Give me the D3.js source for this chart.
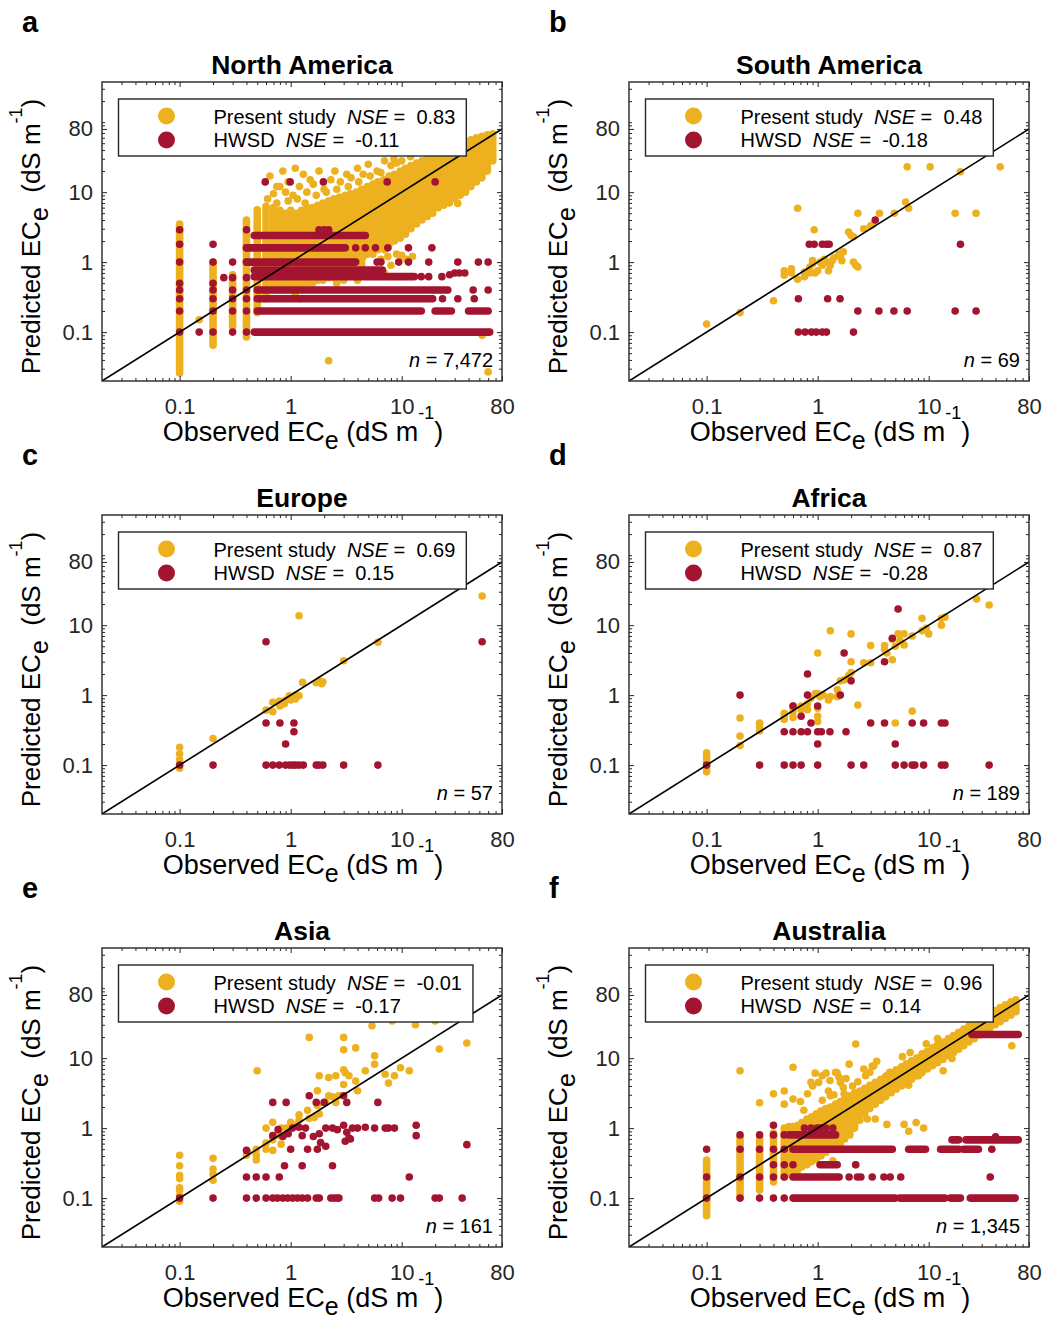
<!DOCTYPE html>
<html>
<head>
<meta charset="utf-8">
<script src="https://cdn.jsdelivr.net/npm/d3@7"></script>
<style>
  body { margin: 0; background: #fff; }
  svg { font-family: "Liberation Sans", Arial, Helvetica, sans-serif; }
</style>
</head>
<body>
<svg id="chart" width="1048" height="1333"></svg>
<script>
// panel meta
const regions = ['North America', 'South America', 'Europe', 'Africa', 'Asia', 'Australia']
const panelLetters = ['a', 'b', 'c', 'd', 'e', 'f']
const nsePresent = [0.83, 0.48, 0.69, 0.87, -0.01, 0.96]
const nseHwsd = [-0.11, -0.18, 0.15, -0.28, -0.17, 0.14]
const sampleSizes = ['7,472', '69', '57', '189', '161', '1,345']
const majorTicks = [0.1, 1, 10, 80]
const xDomain = [0.02, 80]
const yDomain = [0.02, 375]

// dense stacks of overlapping samples: present study as [observed, predLow, predHigh],
// HWSD as [predicted, obsLow, obsHigh]
const naPresentRuns = [
  [0.1, 0.026, 3.5], [0.2, 0.065, 1.0], [0.3, 0.12, 0.66], [0.4, 0.085, 4.0], [0.5, 0.19, 5.6], [0.6, 0.3, 6.3], [0.7, 0.4, 6],
  [0.8, 0.4, 5.5], [0.9, 0.4, 5], [1.0, 0.4, 5.5], [1.12, 0.45, 5], [1.25, 0.45, 5.5], [1.4, 0.5, 6], [1.57, 0.5, 6],
  [1.75, 0.55, 6.5], [1.95, 0.55, 7], [2.2, 0.6, 7.5], [2.45, 0.6, 8], [2.75, 0.65, 8.5], [3.1, 0.7, 9], [3.45, 0.7, 9.5],
  [3.9, 0.8, 10], [4.35, 0.9, 11], [4.9, 1.3, 12], [5.5, 1.5, 13], [6.1, 1.5, 14], [6.9, 1.7, 15], [7.7, 1.8, 17],
  [8.6, 2, 18], [9.7, 2.2, 20], [10.8, 2.5, 22], [12.1, 3, 24], [13.6, 3.5, 26], [15.2, 4, 28], [17, 4.5, 31], [19, 5, 34],
  [21.3, 6, 37], [23.9, 6.5, 40], [26.8, 7, 43], [30, 8, 46], [33.6, 9, 50], [37.6, 10, 53], [42, 12, 56], [47, 14, 60],
  [52.7, 16, 63], [59, 20, 66], [66, 28, 68]
]
const naPresent = [
  [2.2, 0.039], [60, 0.027], [53, 0.09], [60, 0.1], [32, 6.9], [0.15, 0.15],
  [1.1, 22], [1.3, 18], [1.5, 15], [0.75, 12], [0.95, 14], [1.8, 20], [2.5, 20], [3.2, 18], [4, 22], [5, 25], [7, 28],
  [8.5, 30], [9, 26], [12, 32], [0.62, 8], [0.7, 9.5], [0.8, 12], [0.9, 10], [1.05, 9], [1.2, 12], [1.4, 10], [1.6, 13],
  [2, 11], [2.3, 15], [2.8, 14], [3.5, 16], [4.5, 18], [6, 20], [8, 24], [10, 28], [0.65, 17], [0.85, 20],
  [0.75, 7], [0.95, 7.5], [1.15, 8], [1.35, 7], [1.7, 9], [2.1, 10], [2.6, 11], [3.3, 12], [4.1, 14], [5.2, 17], [6.5, 19],
  [4.5, 1.2], [5.5, 1.3], [6.5, 1.1], [7.5, 1.2], [9, 1.3], [10, 1.25], [11, 1.1], [12.5, 1.2], [5, 0.7], [6, 0.68],
  [7, 0.7], [3, 0.55], [4, 0.55], [8, 0.9], [2.6, 0.5], [1.2, 0.3], [1.1, 0.34], [7, 1.5], [7.5, 1.6]
]
const naHwsdRuns = [
  [0.1, 0.47, 62], [0.2, 0.5, 15], [0.2, 20, 28], [0.2, 40, 60], [0.3, 0.5, 19], [0.4, 0.5, 19], [0.4, 20, 26],
  [0.62, 0.47, 13], [0.77, 0.47, 6.7], [1, 0.4, 3.85], [1.6, 0.4, 3.1], [2.4, 0.47, 4.7]
]
const naHwsd = [
  [0.1, 0.1], [0.1, 0.2], [0.1, 0.3], [0.1, 0.4], [0.1, 0.5], [0.1, 1], [0.1, 1.8], [0.1, 2.9], [0.15, 0.1],
  [0.2, 0.1], [0.2, 0.2], [0.2, 0.3], [0.2, 0.4], [0.2, 0.5], [0.2, 1], [0.2, 1.8], [0.25, 0.6],
  [0.3, 0.1], [0.3, 0.2], [0.3, 0.3], [0.3, 0.4], [0.3, 0.6], [0.3, 1],
  [0.4, 0.1], [0.4, 0.2], [0.4, 0.3], [0.4, 0.4], [0.4, 0.6], [0.4, 1], [0.4, 1.6], [0.4, 2.9],
  [0.59, 14], [0.99, 14], [1.97, 14], [7.4, 14], [20, 14], [1.8, 2.9], [2.0, 2.9], [2.2, 2.9],
  [6, 1], [6.5, 1], [9.4, 1], [11.5, 1], [17.5, 1], [32, 1], [49, 1], [60, 1],
  [3.85, 1.6], [4.7, 1.6], [5.8, 1.6], [7.5, 1.6], [11.5, 1.6], [18.7, 1.6],
  [15, 0.62], [17.5, 0.62], [23, 0.62], [27, 0.66], [30, 0.7], [33, 0.7], [37, 0.7],
  [44, 0.4], [60, 0.4], [23.3, 0.3], [32, 0.3], [45, 0.3]
]

const saPresent = [
  [0.1, 0.13], [0.2, 0.19], [0.4, 0.28], [0.5, 0.75], [0.5, 0.65], [0.58, 0.8], [0.58, 0.7], [0.66, 5.9], [0.66, 0.57],
  [0.76, 0.62], [0.76, 0.72], [0.85, 0.85], [0.9, 0.95], [0.85, 0.7], [0.95, 0.7], [0.93, 2.9], [1.0, 0.75], [1.05, 1.0],
  [1.1, 0.9], [1.15, 1.1], [1.2, 1.0], [1.25, 0.75], [1.3, 0.9], [1.35, 1.05], [1.55, 1.3], [1.6, 1.2], [1.65, 1.05],
  [1.9, 2.7], [2.0, 2.4], [2.1, 2.3], [2.1, 1.0], [2.2, 0.9], [2.3, 0.85], [2.3, 5], [2.6, 3.0], [3.0, 3.3], [3.1, 3.4],
  [3.6, 5], [4.9, 5], [6.2, 7.2], [6.6, 5.9], [6.4, 23], [10.3, 23], [44, 23], [19.3, 19.5], [17.3, 5], [26.7, 5],
  [1.4, 1.15], [1.7, 1.4], [0.9, 1.05]
]
const saHwsd = [
  [3.3, 4], [0.84, 1.8], [0.93, 1.8], [1.1, 1.8], [1.2, 1.8], [1.27, 1.8], [19.3, 1.8], [0.67, 0.3], [1.23, 0.3],
  [1.59, 0.3], [2.3, 0.2], [3.56, 0.2], [4.86, 0.2], [6.4, 0.2], [17.3, 0.2], [26.7, 0.2], [0.67, 0.1], [0.77, 0.1],
  [0.88, 0.1], [0.97, 0.1], [1.1, 0.1], [1.2, 0.1], [2.1, 0.1]
]

const euPresent = [
  [0.1, 0.18], [0.1, 0.145], [0.1, 0.12], [0.1, 0.1], [0.1, 0.09], [0.2, 0.24], [0.6, 0.61], [0.69, 0.58], [0.69, 0.79],
  [0.79, 0.82], [0.875, 0.75], [0.9, 0.85], [0.97, 0.98], [1.04, 0.95], [1.11, 1.0], [1.19, 0.98], [1.1, 0.88],
  [1.28, 1.52], [1.7, 1.5], [1.8, 1.6], [1.9, 1.45], [1.95, 1.55], [3.0, 3.1], [6.1, 5.7], [1.19, 13.6], [53, 26],
  [0.8, 0.7], [1.0, 0.85]
]
const euHwsd = [
  [0.6, 5.8], [53, 5.8], [0.6, 0.4], [0.8, 0.4], [1.07, 0.4], [1.07, 0.3], [0.9, 0.2],
  [0.1, 0.1], [0.2, 0.1], [0.6, 0.1], [0.69, 0.1], [0.79, 0.1], [0.9, 0.1], [0.98, 0.1], [1.05, 0.1], [1.11, 0.1],
  [1.19, 0.1], [1.3, 0.1], [1.7, 0.1], [1.8, 0.1], [1.95, 0.1], [3.0, 0.1], [6.1, 0.1]
]

const afPresent = [
  [0.1, 0.15], [0.1, 0.135], [0.1, 0.12], [0.1, 0.11], [0.1, 0.1], [0.1, 0.09], [0.1, 0.08],
  [0.2, 0.47], [0.2, 0.26], [0.2, 0.19], [0.3, 0.4], [0.3, 0.35], [0.3, 0.31],
  [0.5, 0.55], [0.5, 0.5], [0.5, 0.45], [0.6, 0.58], [0.6, 0.48], [0.6, 0.7], [0.71, 0.7], [0.71, 0.62], [0.81, 0.75],
  [0.81, 0.62], [0.87, 0.9], [0.95, 1.05], [1.0, 1.05], [1.05, 0.95], [1.12, 1.0], [1.25, 0.85], [1.3, 0.95],
  [1.5, 0.95], [1.5, 1.2], [1.0, 0.65], [1.0, 0.5], [1.0, 0.42], [1.0, 4.0], [1.3, 8.3], [2.0, 7.5], [2.0, 3.0],
  [2.3, 0.72], [1.6, 1.6], [1.73, 1.65], [1.9, 1.9], [2.0, 2.1], [2.6, 2.9], [3.0, 2.9], [3.0, 5.1], [4.0, 5.1],
  [4.0, 4.5], [4.7, 6.3], [4.7, 3.2], [5.0, 5.0], [5.3, 7.5], [6.0, 7.5], [6.0, 5.2], [7.1, 7.0], [8.7, 12.5],
  [8.7, 8.3], [10, 7.5], [13, 10], [13, 12.5], [14, 13], [27, 23.6], [35, 19.4], [7.1, 0.59], [5.0, 0.4], [4.2, 4.0],
  [5.5, 6], [9.5, 9]
]
const afHwsd = [
  [0.2, 1.0], [0.6, 0.7], [0.71, 0.5], [0.81, 2.0], [0.81, 1.0], [1.0, 0.7], [1.6, 1.0], [1.73, 4.0], [2.0, 1.6],
  [4.0, 3.0], [4.7, 6.5], [5.3, 17],
  [0.87, 0.4], [3.0, 0.4], [4.0, 0.4], [7.1, 0.4], [9.0, 0.4], [13, 0.4], [14, 0.4],
  [0.5, 0.3], [0.6, 0.3], [0.71, 0.3], [0.81, 0.3], [1.0, 0.3], [1.08, 0.3], [1.29, 0.3], [1.8, 0.3], [1.0, 0.2], [5.0, 0.2],
  [0.1, 0.1], [0.3, 0.1], [0.5, 0.1], [0.6, 0.1], [0.71, 0.1], [1.0, 0.1], [2.0, 0.1], [2.6, 0.1], [5.0, 0.1], [6.0, 0.1],
  [7.1, 0.1], [7.5, 0.1], [9.0, 0.1], [13, 0.1], [14, 0.1], [35, 0.1]
]

const asPresent = [
  [0.1, 0.41], [0.1, 0.29], [0.1, 0.21], [0.1, 0.19], [0.1, 0.14], [0.1, 0.13], [0.1, 0.11], [0.1, 0.09],
  [0.2, 0.37], [0.2, 0.26], [0.2, 0.22], [0.2, 0.18],
  [0.4, 0.41], [0.41, 0.46], [0.49, 0.5], [0.49, 0.41], [0.6, 0.61], [0.6, 1.0], [0.69, 1.21], [0.69, 0.68], [0.79, 0.8],
  [0.82, 1.0], [0.91, 1.0], [1.0, 1.21], [1.1, 1.1], [1.19, 1.3], [0.82, 0.59], [0.79, 0.78], [0.6, 0.5], [0.69, 0.48],
  [0.49, 0.35], [1.47, 1.38], [1.63, 1.42], [1.81, 1.59], [1.74, 2.1], [1.74, 3.42], [1.81, 5.6], [2.2, 5.3], [2.55, 5.6],
  [2.38, 2.8], [2.55, 2.33], [2.7, 2.9], [3.0, 4.2], [3.1, 6.2], [3.35, 5.6], [3.0, 6.8], [3.85, 4.7], [4.0, 3.42],
  [4.7, 6.6], [5.7, 8.2], [5.7, 10.8], [7.1, 5.9], [7.6, 4.4], [8.6, 5.6], [9.75, 7.3], [11.7, 6.6], [21.8, 13.5],
  [38.6, 16.4], [1.47, 19.8], [3.0, 19.8], [3.0, 13.2], [3.85, 14], [0.5, 6.6], [5.4, 29], [8.2, 34], [13.3, 30], [20, 34],
  [1.19, 1.55], [1.42, 1.8], [2.07, 2.33], [2.2, 2.9]
]
const asHwsd = [
  [0.4, 0.48], [0.69, 2.33], [0.91, 2.33], [1.47, 2.9], [1.7, 2.33], [2.0, 2.33], [3.0, 2.9], [3.2, 2.33], [6.1, 2.33],
  [0.69, 0.78], [0.77, 0.95], [0.85, 0.76], [0.95, 0.83], [1.04, 1.0], [1.19, 1.03], [1.27, 0.78], [1.36, 1.0], [1.6, 0.76],
  [1.81, 0.83], [1.86, 0.62], [2.07, 1.0], [2.38, 1.0], [2.63, 0.95], [3.0, 1.1], [3.2, 0.87], [3.45, 0.7], [3.6, 1.0],
  [4.0, 1.0], [4.7, 1.03], [5.7, 1.0], [7.1, 1.0], [7.6, 1.0], [8.6, 1.0], [13.5, 1.1], [13.5, 0.78], [38.6, 0.58],
  [3.1, 0.65], [3.35, 0.72], [1.0, 0.5], [1.42, 0.5], [1.74, 0.5], [2.07, 0.55], [0.88, 0.29], [1.27, 0.29], [2.38, 0.29],
  [0.4, 0.2], [0.49, 0.2], [0.6, 0.2], [0.79, 0.2], [11.7, 0.2],
  [0.1, 0.1], [0.2, 0.1], [0.4, 0.1], [0.49, 0.1], [0.6, 0.1], [0.69, 0.1], [0.76, 0.1], [0.85, 0.1], [0.94, 0.1],
  [1.04, 0.1], [1.15, 0.1], [1.27, 0.1], [1.42, 0.1], [1.7, 0.1], [1.81, 0.1], [2.3, 0.1], [2.46, 0.1], [2.63, 0.1],
  [2.72, 0.1], [5.7, 0.1], [6.2, 0.1], [8.2, 0.1], [9.75, 0.1], [20, 0.1], [21.8, 0.1], [35, 0.1]
]

const auPresentRuns = [
  [0.1, 0.056, 0.35], [0.2, 0.1, 0.74], [0.3, 0.13, 0.7], [0.4, 0.17, 0.85], [0.5, 0.2, 1.0],
  [0.55, 0.22, 1.05], [0.6, 0.25, 1.05], [0.66, 0.25, 1.1], [0.72, 0.28, 1.2], [0.8, 0.3, 1.35], [0.88, 0.33, 1.45],
  [0.97, 0.36, 1.6], [1.07, 0.4, 1.75], [1.18, 0.45, 1.9], [1.3, 0.5, 2.0], [1.45, 0.55, 2.2], [1.6, 0.6, 2.4],
  [1.75, 0.7, 2.6], [1.95, 0.8, 2.9], [2.15, 1.0, 3.2], [2.4, 1.3, 3.4], [2.65, 1.6, 3.7], [2.95, 1.9, 4.1],
  [3.3, 2.2, 4.5], [3.7, 2.5, 5], [4.1, 2.8, 5.5], [4.6, 3.2, 6.1], [5.1, 3.6, 6.8], [5.7, 4, 7.5], [6.3, 4.5, 8.3],
  [7, 5, 9.2], [7.8, 5.6, 10], [8.7, 6.2, 11.5], [9.7, 7, 12.5], [10.8, 7.8, 14], [12, 8.6, 15.5], [13.4, 9.6, 17],
  [15, 10.8, 19], [16.7, 12, 21], [18.6, 13.4, 23.5], [20.7, 15, 26], [23, 17, 29], [25.7, 19, 32], [28.6, 21.5, 35],
  [32, 24, 39], [35.6, 27, 43], [39.7, 30, 48], [44, 33, 53], [49, 37, 58], [55, 41, 64], [61, 46, 68]
]
const auPresent = [
  [0.2, 6.6], [0.3, 2.3], [0.4, 3.1], [0.5, 3.4], [0.5, 2.2], [0.6, 7.4], [0.6, 2.6], [0.81, 3.1], [0.87, 4.5], [0.95, 6.1],
  [1.02, 4.5], [1.19, 6.1], [1.3, 2.9], [1.5, 6.1], [1.6, 4.5], [1.73, 3.1], [1.92, 8.2], [2.2, 15.9], [2.7, 5.6],
  [3.2, 7.7], [3.6, 4.1], [4.2, 5.6], [4.7, 6.1], [5.5, 5.6], [6.6, 4.1], [7.1, 8.2], [8.1, 5.6], [8.7, 6.6], [10.8, 8.2],
  [13.5, 6.6], [16.2, 9.9], [17.4, 13.5], [0.9, 4.0], [1.1, 5.6], [1.29, 4.8], [1.45, 6.25], [1.56, 5.3], [1.8, 5.1],
  [2.06, 4.0], [2.06, 2.7], [2.4, 3.0], [2.95, 6.25], [3.1, 7.7], [3.9, 4.0], [4.45, 6.25], [5.0, 4.8],
  [0.7, 2.4], [0.75, 1.8], [1.1, 2.5], [1.25, 3.4], [1.4, 3.0], [1.7, 3.8], [2.3, 4.6], [2.6, 7.0], [3.4, 9.0], [5.8, 10.5],
  [6.8, 12], [9.5, 16], [12, 19],
  [2.8, 1.35], [3.3, 1.35], [4.2, 1.13], [6.0, 1.13], [6.6, 0.9], [7.7, 1.2], [9.0, 1.0], [1.37, 0.34], [2.2, 0.3],
  [56, 15]
]
const auHwsdRuns = [
  [0.1, 0.6, 5.0], [0.1, 5.5, 14], [0.1, 15.7, 19.3], [0.1, 23.7, 60], [0.2, 0.6, 1.56], [0.3, 1.05, 1.5],
  [0.5, 0.6, 4.7], [0.5, 6.6, 9.35], [0.5, 12.8, 18.6], [0.5, 20.6, 28], [0.8, 0.55, 1.45], [0.68, 16.2, 18.6],
  [0.68, 21.6, 64], [21.8, 24.5, 64]
]
const auHwsd = [
  [0.1, 0.1], [0.2, 0.1], [0.3, 0.1], [0.4, 0.1], [0.5, 0.1],
  [0.1, 0.2], [0.2, 0.2], [0.3, 0.2], [0.4, 0.2], [0.5, 0.2], [1.92, 0.2], [2.28, 0.2], [2.45, 0.2], [3.1, 0.2],
  [3.95, 0.2], [4.5, 0.2], [5.6, 0.2], [35.8, 0.2], [0.4, 0.3], [0.5, 0.3], [0.6, 0.3], [2.2, 0.3],
  [0.1, 0.5], [0.2, 0.5], [0.3, 0.5], [0.4, 0.5], [0.5, 0.5], [37, 0.5],
  [0.2, 0.8], [0.3, 0.8], [0.4, 0.8], [0.5, 0.8], [0.4, 1.1], [0.76, 1.0], [0.87, 1.0], [0.99, 1.0], [1.06, 1.0],
  [1.19, 1.0], [1.37, 1.0], [40, 0.75]
]

const presentPoints = [naPresent, saPresent, euPresent, afPresent, asPresent, auPresent]
const presentRuns = [naPresentRuns, [], [], [], [], auPresentRuns]
const hwsdPoints = [naHwsd, saHwsd, euHwsd, afHwsd, asHwsd, auHwsd]
const hwsdRuns = [naHwsdRuns, [], [], [], [], auHwsdRuns]

const yellow = '#EDB120'
const red = '#A2142F'
const ink = '#262626'
const R = 3.8
const W = 400
const H = 299
const panelLeft = [102, 629]
const panelTop = [82, 515, 948]

const svg = d3.select('#chart')
const x = d3.scaleLog().domain(xDomain).range([0, W])
const y = d3.scaleLog().domain(yDomain).range([H, 0])

// log minor ticks (1..9 per decade), skipping the labelled ones
function minorTicks (domain) {
  const out = []
  for (let k = -2; k <= 3; k++) {
    for (let m = 1; m <= 9; m++) {
      const v = +(m * Math.pow(10, k)).toPrecision(3)
      if (v > domain[0] && v < domain[1] && !majorTicks.includes(v)) out.push(v)
    }
  }
  return out
}
const xMinor = minorTicks(xDomain)
const yMinor = minorTicks(yDomain)

function styleAxis (sel, labelled) {
  sel.select('.domain').remove()
  sel.attr('font-family', null).attr('font-size', null)
  sel.selectAll('line').attr('stroke', ink).attr('stroke-width', 1)
  if (labelled) sel.selectAll('text').attr('fill', ink).style('font-size', '22px')
}

function drawAxes (g) {
  const sides = [
    [d3.axisBottom(x), `translate(0,${H})`, xMinor, true, 17],
    [d3.axisTop(x), 'translate(0,0)', xMinor, false, 0],
    [d3.axisLeft(y), 'translate(0,0)', yMinor, true, 9],
    [d3.axisRight(y), `translate(${W},0)`, yMinor, false, 0]
  ]
  sides.forEach(([axis, tr, minor, labelled, pad]) => {
    g.append('g').attr('transform', tr)
      .call(axis.tickValues(minor).tickSize(-3).tickSizeOuter(0).tickFormat(''))
      .call(s => styleAxis(s, false))
    g.append('g').attr('transform', tr)
      .call(axis.tickValues(majorTicks).tickSize(-5).tickPadding(pad)
        .tickFormat(labelled ? d3.format('~g') : ''))
      .call(s => styleAxis(s, labelled))
  })
}

// "Observed EC_e (dS m^-1)" style label with sub/superscript
function unitLabel (text, head, gap, raise) {
  text.append('tspan').text(head + 'EC')
  text.append('tspan').attr('dy', 8).style('font-size', '25px').text('e')
  text.append('tspan').attr('dy', -8).text(gap + '(dS m')
  text.append('tspan').attr('dy', -raise).style('font-size', '18px').text('-1')
  text.append('tspan').attr('dy', raise).text(')')
}

function drawPanel (i) {
  const g = svg.append('g')
    .attr('transform', `translate(${panelLeft[i % 2]},${panelTop[Math.floor(i / 2)]})`)

  const clipId = 'clip-' + i
  g.append('clipPath').attr('id', clipId).append('rect').attr('width', W).attr('height', H)
  const plot = g.append('g').attr('clip-path', `url(#${clipId})`)

  plot.selectAll('line.prun').data(presentRuns[i]).join('line').attr('class', 'prun')
    .attr('x1', d => x(d[0])).attr('x2', d => x(d[0]))
    .attr('y1', d => y(d[1])).attr('y2', d => y(d[2]))
    .attr('stroke', yellow).attr('stroke-width', 2 * R).attr('stroke-linecap', 'round')
  plot.selectAll('circle.present').data(presentPoints[i]).join('circle').attr('class', 'present')
    .attr('cx', d => x(d[0])).attr('cy', d => y(d[1])).attr('r', R).attr('fill', yellow)

  plot.selectAll('line.hrun').data(hwsdRuns[i]).join('line').attr('class', 'hrun')
    .attr('x1', d => x(d[1])).attr('x2', d => x(d[2]))
    .attr('y1', d => y(d[0])).attr('y2', d => y(d[0]))
    .attr('stroke', red).attr('stroke-width', 2 * R).attr('stroke-linecap', 'round')
  plot.selectAll('circle.hwsd').data(hwsdPoints[i]).join('circle').attr('class', 'hwsd')
    .attr('cx', d => x(d[0])).attr('cy', d => y(d[1])).attr('r', R).attr('fill', red)

  // 1:1 line
  plot.append('path')
    .datum([xDomain[0], xDomain[1]])
    .attr('d', d3.line().x(v => x(v)).y(v => y(v)))
    .attr('stroke', '#000').attr('stroke-width', 1.6).attr('fill', 'none')

  g.append('rect').attr('width', W).attr('height', H)
    .attr('fill', 'none').attr('stroke', ink).attr('stroke-width', 1.4)
  drawAxes(g)

  // legend
  const lg = g.append('g').attr('transform', 'translate(16.5,17)')
  const box = lg.append('rect').attr('height', 57).attr('fill', '#fff')
    .attr('stroke', ink).attr('stroke-width', 1.4)
  lg.append('circle').attr('cx', 48).attr('cy', 17).attr('r', 8.5).attr('fill', yellow)
  lg.append('circle').attr('cx', 48).attr('cy', 41).attr('r', 8.5).attr('fill', red)
  const rows = [['Present study  ', nsePresent[i], 25], ['HWSD  ', nseHwsd[i], 48]]
  const widths = rows.map(([name, v, ty]) => {
    const t = lg.append('text').attr('x', 95).attr('y', ty)
      .attr('xml:space', 'preserve').style('white-space', 'pre').style('font-size', '20px')
    t.append('tspan').text(name)
    t.append('tspan').style('font-style', 'italic').text('NSE')
    t.append('tspan').text(' =  ' + v.toFixed(2))
    return t.node().getComputedTextLength()
  })
  box.attr('width', d3.max(widths) + 95 + 11)

  const nt = g.append('text').attr('x', W - 9).attr('y', H - 14).attr('text-anchor', 'end')
    .style('font-size', '20px')
  nt.append('tspan').style('font-style', 'italic').text('n')
  nt.append('tspan').text(' = ' + sampleSizes[i])

  g.append('text').attr('x', W / 2).attr('y', -8).attr('text-anchor', 'middle')
    .style('font-size', '26.5px').style('font-weight', 'bold').text(regions[i])
  g.append('text').attr('x', -80).attr('y', -50)
    .style('font-size', '29px').style('font-weight', 'bold').text(panelLetters[i])

  g.append('text').attr('x', W / 2 + 1).attr('y', H + 60).attr('text-anchor', 'middle')
    .attr('xml:space', 'preserve').style('white-space', 'pre').style('font-size', '27px')
    .call(t => unitLabel(t, 'Observed ', ' ', 22))
  g.append('text').attr('transform', `translate(-62,${H / 2 + 5}) rotate(-90)`).attr('text-anchor', 'middle')
    .attr('xml:space', 'preserve').style('white-space', 'pre').style('font-size', '26px')
    .call(t => unitLabel(t, 'Predicted ', '  ', 18))
}

regions.forEach((_, i) => drawPanel(i))
</script>
</body>
</html>
